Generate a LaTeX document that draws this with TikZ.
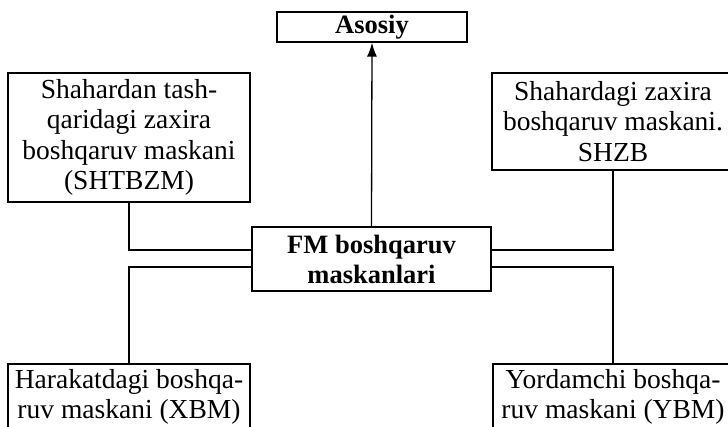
\documentclass[tikz,border=0pt]{standalone}
\usepackage{fontspec}
\setmainfont{Liberation Serif}
\usetikzlibrary{arrows.meta}
\begin{document}
\begin{tikzpicture}[x=1pt,y=-1pt,
  box/.style={draw, line width=1.3pt, inner sep=0pt, align=center,
    font=\fontsize{27.5}{30.5}\selectfont},
  boldbox/.style={box, font=\fontsize{26.5}{30}\selectfont\bfseries},
  conn/.style={line width=1.3pt}]
\useasboundingbox (0,0) rectangle (728,427);
\clip (0,0) rectangle (728,427);
\node[boldbox, minimum width=190pt, minimum height=30pt] (as) at (372,27) {Asosiy};
\node[box, minimum width=242pt, minimum height=129pt] (tl) at (129,137.5)
  {Shahardan tash-\\qaridagi zaxira\\boshqaruv maskani\\(SHTBZM)};
\node[box, minimum width=242pt, minimum height=97pt] (tr) at (613,121.5)
  {Shahardagi zaxira\\boshqaruv maskani.\\SHZB};
\node[boldbox, minimum width=239pt, minimum height=64pt] (fm) at (371.5,259)
  {FM boshqaruv\\maskanlari};
\node[box, minimum width=242pt, minimum height=66pt] (bl) at (129,397)
  {Harakatdagi boshqa-\\ruv maskani (XBM)};
\node[box, minimum width=240pt, minimum height=66pt] (br) at (613,397)
  {Yordamchi boshqa-\\ruv maskani (YBM)};
\draw[conn] (tl.south) |- ([yshift=9pt]fm.west);
\draw[conn] ([yshift=-8pt]fm.west) -| (bl.north);
\draw[conn] (tr.south) |- ([yshift=9pt]fm.east);
\draw[conn] ([yshift=-8pt]fm.east) -| (br.north);
\draw[conn, -{Latex[length=14pt,width=10pt]}] (fm.north) -- (as.south);
\end{tikzpicture}
\end{document}
